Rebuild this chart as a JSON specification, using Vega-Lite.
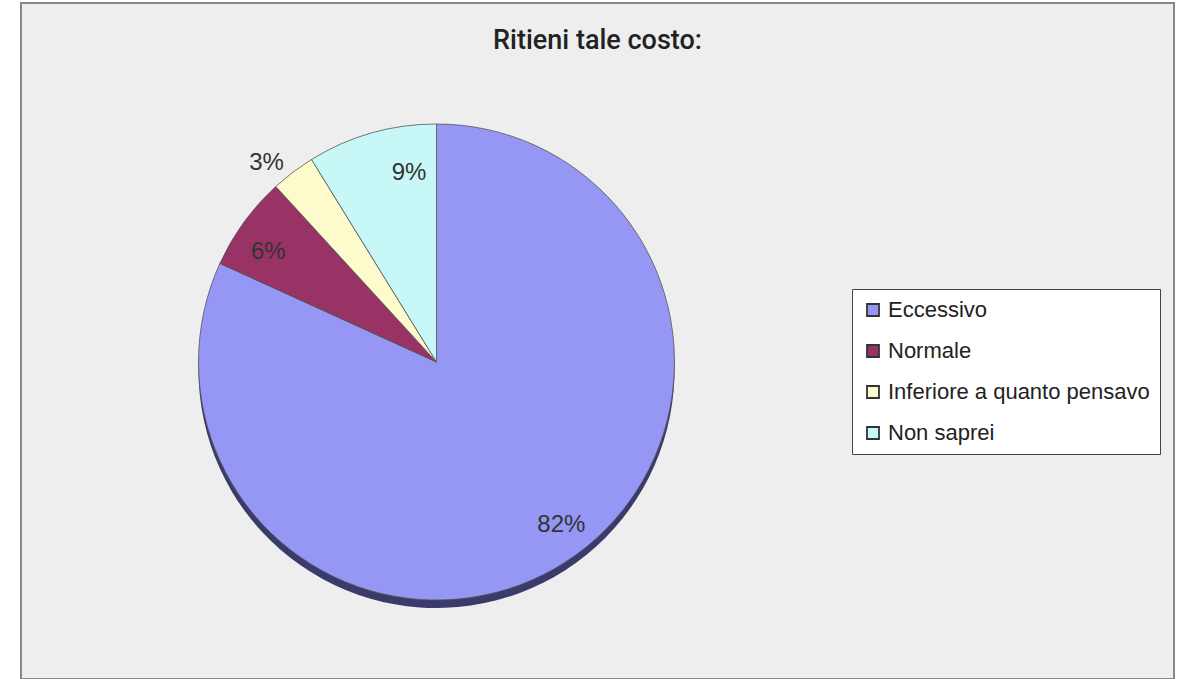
{
  "$schema": "https://vega.github.io/schema/vega-lite/v6.json",
  "width": 1153,
  "height": 676,
  "autosize": "none",
  "padding": {"left": 21, "top": 3, "right": 15, "bottom": 0},
  "background": "white",
  "view": {"fill": "#eeeeee", "stroke": "#888888", "strokeWidth": 2},
  "title": {
    "text": "Ritieni tale costo:",
    "offset": -52,
    "anchor": "middle",
    "font": "Roboto",
    "fontSize": 27,
    "fontWeight": 500,
    "color": "#222222"
  },
  "data": {
    "values": [
      {"answer": "Eccessivo", "share": 0.818, "ord": 1},
      {"answer": "Normale", "share": 0.064, "ord": 2},
      {"answer": "Inferiore a quanto pensavo", "share": 0.03, "ord": 3},
      {"answer": "Non saprei", "share": 0.088, "ord": 4}
    ]
  },
  "encoding": {
    "theta": {"field": "share", "type": "quantitative", "stack": true},
    "order": {"field": "ord", "type": "quantitative"}
  },
  "layer": [
    {
      "mark": {"type": "arc", "radius": 238, "xOffset": -161, "yOffset": 29, "color": "#3b3b6b"}
    },
    {
      "mark": {"type": "arc", "radius": 238, "xOffset": -161, "yOffset": 21, "stroke": "#555555", "strokeWidth": 0.8},
      "encoding": {
        "color": {
          "field": "answer",
          "type": "nominal",
          "scale": {
            "domain": ["Eccessivo", "Normale", "Inferiore a quanto pensavo", "Non saprei"],
            "range": ["#9696f4", "#993366", "#fdfbcc", "#c8f7f7"]
          },
          "legend": {
            "orient": "none",
            "legendX": 831,
            "legendY": 286,
            "title": null,
            "fillColor": "white",
            "strokeColor": "#444444",
            "padding": 10,
            "symbolType": "square",
            "symbolSize": 144,
            "symbolStrokeColor": "#333333",
            "symbolStrokeWidth": 1.8,
            "symbolOpacity": 1,
            "labelFont": "Liberation Sans",
            "labelFontSize": 22,
            "labelColor": "#222222",
            "labelLimit": 400,
            "labelOffset": 4,
            "rowPadding": 19
          }
        }
      }
    },
    {
      "mark": {"type": "text", "radius": 203, "xOffset": -161, "yOffset": 21, "dx": 15, "dy": -8, "font": "Liberation Sans", "fontSize": 24, "color": "#333333"},
      "encoding": {
        "text": {"condition": {"test": "datum.ord == 1", "field": "share", "type": "quantitative", "format": ".0%"}, "value": ""}
      }
    },
    {
      "mark": {"type": "text", "radius": 203, "xOffset": -161, "yOffset": 21, "dx": -4, "dy": 9, "font": "Liberation Sans", "fontSize": 24, "color": "#333333"},
      "encoding": {
        "text": {"condition": {"test": "datum.ord == 2", "field": "share", "type": "quantitative", "format": ".0%"}, "value": ""}
      }
    },
    {
      "mark": {"type": "text", "radius": 262, "xOffset": -161, "yOffset": 21, "dx": -12, "dy": 10, "font": "Liberation Sans", "fontSize": 24, "color": "#333333"},
      "encoding": {
        "text": {"condition": {"test": "datum.ord == 3", "field": "share", "type": "quantitative", "format": ".0%"}, "value": ""}
      }
    },
    {
      "mark": {"type": "text", "radius": 192, "xOffset": -161, "yOffset": 21, "dx": 25, "dy": -4, "font": "Liberation Sans", "fontSize": 24, "color": "#333333"},
      "encoding": {
        "text": {"condition": {"test": "datum.ord == 4", "field": "share", "type": "quantitative", "format": ".0%"}, "value": ""}
      }
    }
  ]
}
